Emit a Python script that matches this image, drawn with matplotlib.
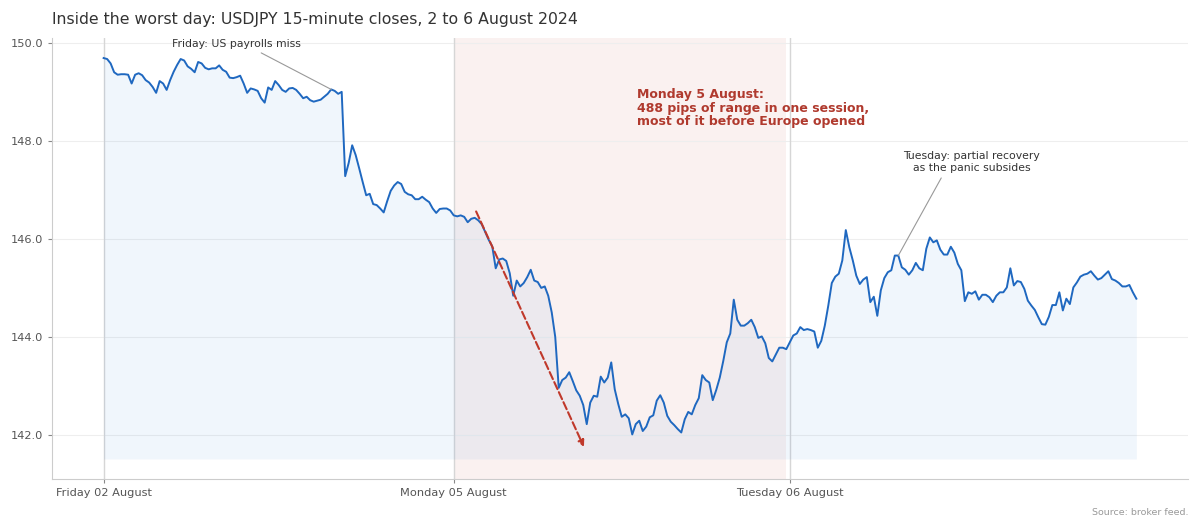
import matplotlib
matplotlib.use("Agg")
import matplotlib.pyplot as plt
import numpy as np

title = "Inside the worst day: USDJPY 15-minute closes, 2 to 6 August 2024"
day_labels = ["Friday 02 August", "Monday 05 August", "Tuesday 06 August"]
y_ticks = [142.0, 144.0, 146.0, 148.0, 150.0]

# 15-minute closes
fri = [149.69, 149.67, 149.58, 149.40, 149.35, 149.36, 149.36, 149.35, 149.17, 149.35,
       149.38, 149.34, 149.24, 149.19, 149.10, 148.98, 149.22, 149.17, 149.04, 149.24,
       149.41, 149.55, 149.67, 149.64, 149.52, 149.47, 149.40, 149.61, 149.58, 149.49,
       149.46, 149.48, 149.48, 149.54, 149.45, 149.41, 149.29, 149.28, 149.30, 149.33,
       149.17, 148.98, 149.07, 149.05, 149.02, 148.87, 148.78, 149.09, 149.04, 149.22,
       149.14, 149.04, 149.00, 149.07, 149.08, 149.04, 148.96, 148.87, 148.90, 148.83,
       148.80, 148.82, 148.84, 148.90, 148.96, 149.05, 149.02, 148.96, 149.00, 147.28,
       147.55, 147.91, 147.71, 147.44, 147.16, 146.89, 146.92, 146.71, 146.69, 146.62,
       146.54, 146.77, 146.98, 147.09, 147.16, 147.12, 146.96, 146.91, 146.89, 146.81,
       146.81, 146.86, 146.80, 146.75, 146.62, 146.53, 146.61, 146.62, 146.62, 146.58]
mon = [146.48, 146.46, 146.48, 146.45, 146.34, 146.41, 146.43, 146.38, 146.30, 146.14,
       145.98, 145.85, 145.40, 145.58, 145.60, 145.55, 145.30, 144.84, 145.15, 145.03,
       145.10, 145.22, 145.37, 145.15, 145.12, 145.00, 145.03, 144.84, 144.50, 144.00,
       142.96, 143.12, 143.17, 143.28, 143.10, 142.91, 142.80, 142.61, 142.22, 142.66,
       142.80, 142.78, 143.19, 143.07, 143.17, 143.48, 142.93, 142.63, 142.37, 142.42,
       142.34, 142.01, 142.22, 142.29, 142.08, 142.17, 142.36, 142.40, 142.70, 142.81,
       142.66, 142.39, 142.27, 142.20, 142.12, 142.05, 142.32, 142.47, 142.42, 142.61,
       142.75, 143.22, 143.12, 143.07, 142.71, 142.92, 143.17, 143.51, 143.89, 144.07,
       144.76, 144.35, 144.23, 144.23, 144.28, 144.35, 144.20, 143.98, 144.01, 143.87,
       143.57, 143.50, 143.64, 143.78, 143.78, 143.75]
tue = [143.89, 144.03, 144.07, 144.20, 144.14, 144.16, 144.14, 144.11, 143.78, 143.92,
       144.23, 144.64, 145.10, 145.23, 145.29, 145.56, 146.18, 145.83, 145.56, 145.25,
       145.08, 145.17, 145.22, 144.71, 144.82, 144.43, 144.95, 145.20, 145.32, 145.36,
       145.66, 145.66, 145.42, 145.37, 145.27, 145.36, 145.51, 145.40, 145.36, 145.80,
       146.03, 145.93, 145.97, 145.78, 145.68, 145.68, 145.84, 145.72, 145.49, 145.36,
       144.73, 144.91, 144.88, 144.93, 144.76, 144.86, 144.86, 144.81, 144.71, 144.84,
       144.91, 144.91, 145.01, 145.40, 145.05, 145.14, 145.12, 144.98, 144.74, 144.64,
       144.55, 144.40, 144.26, 144.25, 144.41, 144.65, 144.65, 144.91, 144.54, 144.78,
       144.67, 145.01, 145.11, 145.23, 145.27, 145.29, 145.34, 145.25, 145.17, 145.20,
       145.27, 145.34, 145.18, 145.15, 145.10, 145.03, 145.03, 145.06, 144.91, 144.78]

friday_note_idx = 65
tuesday_note_idx = 227
# dashed "path" arrow on Monday (bar index, price)
arrow_start = (106.4, 146.56)
arrow_end = (137.2, 141.755)

values = np.array(fri + mon + tue)
x = np.arange(len(values))
starts = [0, len(fri), len(fri) + len(mon)]

blue = "#1f68c0"
fill_blue = "#2a7ad6"
red = "#c0392b"

fig = plt.figure(figsize=(12, 5.25), dpi=100)
ax = fig.add_axes([52 / 1200, 1 - 479 / 525, (1188 - 52) / 1200, (479 - 38) / 525])

ax.axvspan(starts[1], starts[2] - 1, color=red, alpha=0.07, lw=0, zorder=0)
for s in starts:
    ax.axvline(s, color="#d6d6d6", lw=1, zorder=1)

base = values.min() - 0.5
ax.fill_between(x, values, base, color=fill_blue, alpha=0.065, lw=0, zorder=2)
ax.plot(x, values, color=blue, lw=1.4, zorder=3)

ax.set_xticks(starts)
ax.set_xticklabels(day_labels)
ax.set_yticks(y_ticks)
ax.set_yticklabels([f"{v:.1f}" for v in y_ticks])
ax.yaxis.grid(True, color="#eeeeee", lw=0.8)
ax.set_axisbelow(True)
for side in ["top", "right"]:
    ax.spines[side].set_visible(False)
for side in ["left", "bottom"]:
    ax.spines[side].set_color("#cccccc")
ax.tick_params(length=3, color="#888888", labelsize=8.2, labelcolor="#555555")

ax.annotate("Friday: US payrolls miss", xy=(friday_note_idx, values[friday_note_idx]),
            xytext=(38, 149.98), ha="center", va="center", fontsize=7.8, color="#333333",
            arrowprops=dict(arrowstyle="-", color="#999999", lw=0.8, relpos=(0.63, 0),
                            shrinkA=2, shrinkB=0), zorder=5)

ax.text(152.4, 148.67, "Monday 5 August:\n488 pips of range in one session,\nmost of it before Europe opened",
        fontsize=9, fontweight="bold", color="#b03a2e", ha="left", va="center",
        linespacing=1.05, zorder=5)

ax.annotate("", xy=arrow_end, xytext=arrow_start,
            arrowprops=dict(arrowstyle="-|>", linestyle="--", color=red, lw=1.5,
                            mutation_scale=9, shrinkA=0, shrinkB=0), zorder=4)

ax.annotate("Tuesday: partial recovery\nas the panic subsides",
            xy=(tuesday_note_idx, values[tuesday_note_idx]),
            xytext=(247.9, 147.57), ha="center", va="center", fontsize=7.8, color="#333333",
            arrowprops=dict(arrowstyle="-", color="#999999", lw=0.8, relpos=(0.3, 0),
                            shrinkA=2, shrinkB=0), zorder=5)

fig.text(52 / 1200, 1 - 24 / 525, title, fontsize=11.3, color="#333333", va="baseline")
fig.text(1188 / 1200, 1 - 515 / 525, "Source: broker feed.", ha="right", va="baseline",
         fontsize=6.8, color="#999999")

fig.savefig("out.png", dpi=100)
